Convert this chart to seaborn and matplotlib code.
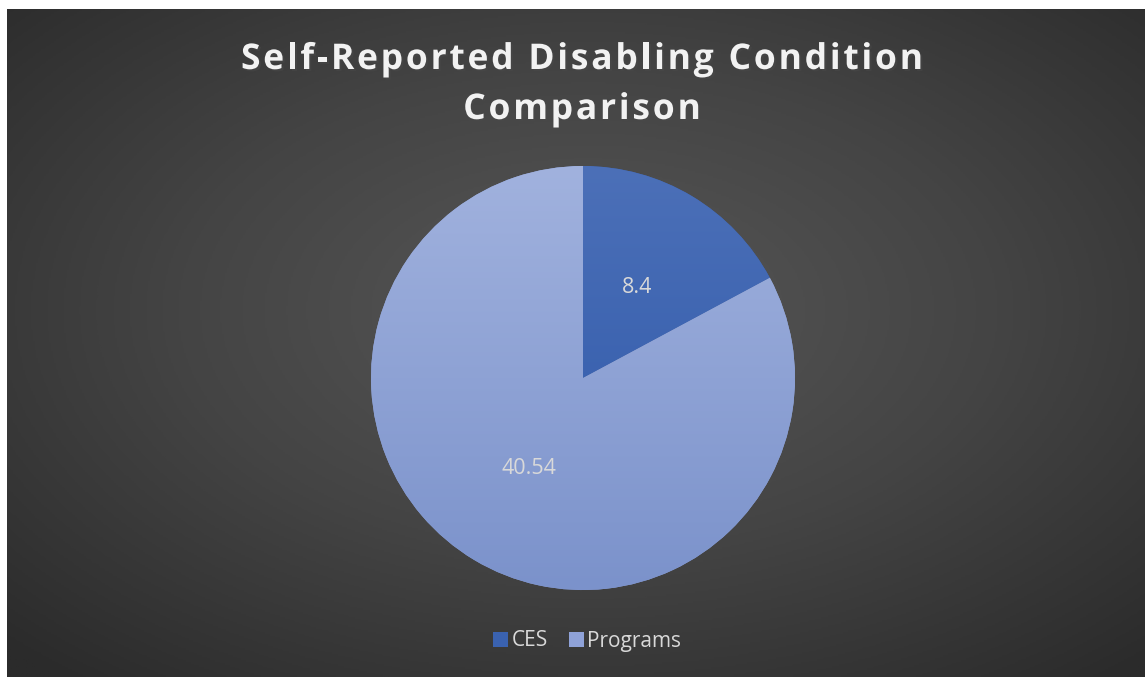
import numpy as np
import matplotlib
matplotlib.use("Agg")
import matplotlib.pyplot as plt
import matplotlib.patheffects as pe
from matplotlib.colors import LinearSegmentedColormap
from matplotlib.font_manager import FontProperties
import seaborn as sns

# data
categories = ["CES", "Programs"]
values = [8.4, 40.54]
value_labels = ["8.4", "40.54"]
title_lines = ["Self-Reported Disabling Condition", "Comparison"]

sns.set_theme(style="dark")
plt.rcParams['font.family'] = ['Open Sans', 'DejaVu Sans']

W, H = 1145, 677
fig = plt.figure(figsize=(W / 100, H / 100), dpi=100, facecolor="white")

# radial grey background (white strip top/left like the original screenshot)
bg = fig.add_axes([7 / W, 0, 1 - 7 / W, 1 - 9 / H])
yy, xx = np.mgrid[0:400, 0:700]
cx, cy = 0.51 * 700, 0.45 * 400
r = np.sqrt(((xx - cx) / 700) ** 2 + ((yy - cy) / 400) ** 2) / 0.72
bg_cmap = LinearSegmentedColormap.from_list("bg", ["#575757", "#444444", "#2b2b2b"])
bg.imshow(np.clip(r, 0, 1), cmap=bg_cmap, vmin=0, vmax=1, aspect="auto")
bg.set_axis_off()

# pie
cx_px, cy_px, rad = 583, 378, 212
ax = fig.add_axes([(cx_px - rad) / W, 1 - (cy_px + rad) / H, 2 * rad / W, 2 * rad / H])
colors = ["#3a62b0", "#8fa2d8"]
wedges, texts = ax.pie(values, colors=colors, startangle=90, counterclock=False,
                       wedgeprops=dict(linewidth=0))

# vertical gradient inside each slice
grads = [["#4c70b8", "#2b56a8"], ["#a1b2de", "#7b92cb"]]
for w, g in zip(wedges, grads):
    cm = LinearSegmentedColormap.from_list("g", g)
    im = ax.imshow(np.linspace(0, 1, 256).reshape(-1, 1), cmap=cm, extent=[-1, 1, -1, 1],
                   aspect="auto", zorder=w.get_zorder() + 0.1)
    im.set_clip_path(w)
ax.set_xlim(-1, 1)
ax.set_ylim(-1, 1)
ax.set_axis_off()

# value labels inside the slices
total = sum(values)
start = 90
for v, lab in zip(values, value_labels):
    ang = np.deg2rad(start - 360 * v / total / 2)
    ax.text(0.5 * np.cos(ang), 0.5 * np.sin(ang), lab, ha="center", va="center",
            fontsize=15.5, color="#d9d9d9", zorder=10)
    start -= 360 * v / total

# title with extra letter spacing
fp = FontProperties(family=['Open Sans', 'DejaVu Sans'], weight="bold", size=25.5)
renderer = fig.canvas.get_renderer()

def tw(s):
    return renderer.get_text_width_height_descent(s, fp, ismath=False)[0]

def prefix_w(s):
    return tw(s + "l") - tw("l")

first = title_lines[0]
spacing = (682 - tw(first)) / (len(first) - 1)
shadow = [pe.SimplePatchShadow(offset=(1.5, -1.5), alpha=0.5), pe.Normal()]
for line, base_y in zip(title_lines, [69, 119]):
    total_w = tw(line) + spacing * (len(line) - 1)
    x0 = 582 - total_w / 2
    for i, ch in enumerate(line):
        if ch == " ":
            continue
        x = x0 + prefix_w(line[:i]) + spacing * i
        fig.text(x / W, 1 - base_y / H, ch, ha="left", va="baseline",
                 fontproperties=fp, color="#f2f2f2", path_effects=shadow)

leg = fig.legend(wedges, categories, loc="center", bbox_to_anchor=(587 / W, 1 - 641 / H),
                 ncol=2, frameon=False, fontsize=15, handlelength=0.75, handleheight=0.75,
                 handletextpad=0.15, columnspacing=1.0, labelcolor="#d9d9d9")

fig.savefig("out.png", dpi=100, facecolor="white")
